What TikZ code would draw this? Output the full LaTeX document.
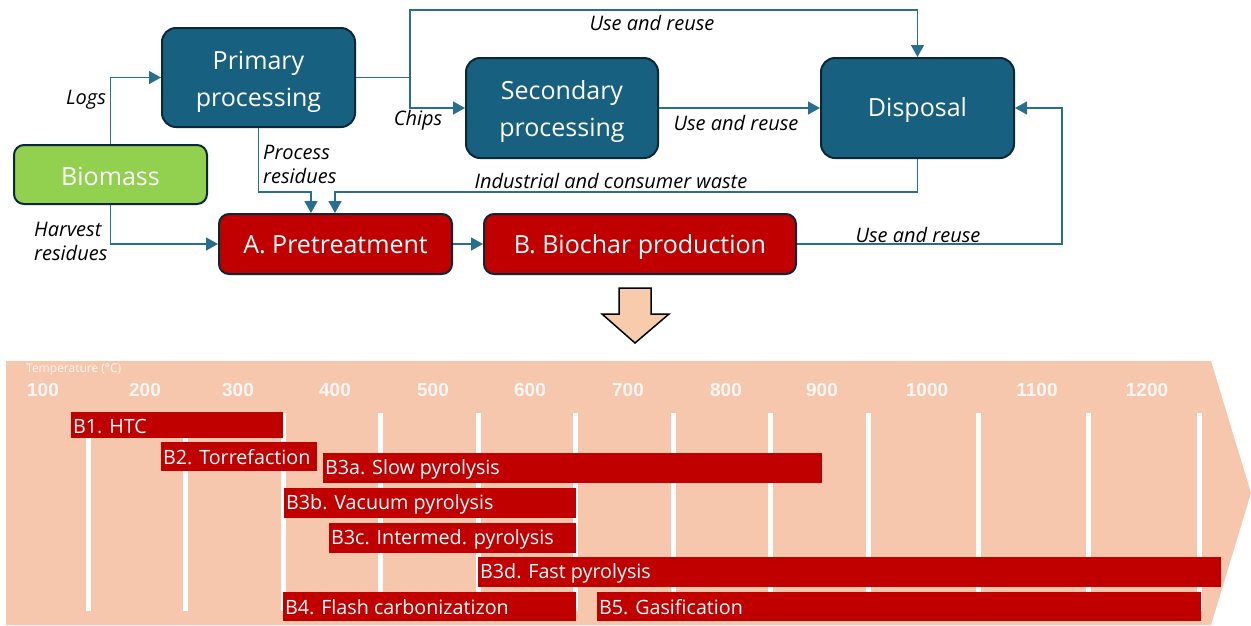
\documentclass[tikz,border=0pt]{standalone}
\usepackage{fontspec}
\setmainfont{Open Sans}
\newfontfamily\numfont{Liberation Sans}
\usetikzlibrary{arrows.meta}
\definecolor{procblue}{RGB}{24,96,128}
\definecolor{edgedark}{RGB}{12,40,56}
\definecolor{biogreen}{RGB}{146,208,80}
\definecolor{stepred}{RGB}{192,0,0}
\definecolor{flowline}{RGB}{40,110,145}
\definecolor{panel}{RGB}{246,199,173}
\definecolor{downfill}{RGB}{248,203,173}
\begin{document}
\begin{tikzpicture}[x=1pt,y=-1pt,
  proc/.style={draw=edgedark, line width=2pt, fill=procblue, rounded corners=14pt,
    text=white, font=\fontsize{25}{37}\selectfont, align=center, inner sep=0pt},
  stage/.style={draw=edgedark, line width=2pt, fill=stepred, rounded corners=10pt,
    text=white, font=\fontsize{25}{30}\selectfont, inner sep=0pt, text height=24pt, text depth=6pt},
  flow/.style={draw=flowline, line width=1.5pt, -{Triangle[length=12pt,width=13pt]}},
  link/.style={draw=flowline, line width=1.5pt},
  lab/.style={font=\fontsize{20}{24}\selectfont\itshape, text=black, inner sep=0pt, align=left},
  bar/.style={fill=stepred},
  bartext/.style={text=white, font=\fontsize{19.7}{22}\selectfont, inner sep=2pt, anchor=west},
  tick/.style={draw=white, line width=5pt},
  temp/.style={text=white, text opacity=0.85, font=\numfont\bfseries\fontsize{19}{22}\selectfont, inner sep=0pt}
]
\useasboundingbox (0,0) rectangle (1251,625);

% ---------- process nodes ----------
\node[proc, text height=63pt, minimum width=193pt, minimum height=99pt] (prim) at (258.5,77.5) {Primary\\processing};
\node[proc, text height=63pt, minimum width=192pt, minimum height=100pt] (sec) at (562,108) {Secondary\\processing};
\node[proc, text height=22pt, text depth=6pt, minimum width=193pt, minimum height=100pt] (disp) at (917.5,108) {Disposal};
\node[draw=edgedark, line width=2pt, fill=biogreen, rounded corners=10pt, text=white,
  font=\fontsize{25}{30}\selectfont, inner sep=0pt, text height=27pt, text depth=6pt,
  minimum width=193pt, minimum height=59pt] (bio) at (110.5,174.5) {Biomass};
\node[stage, minimum width=233pt, minimum height=60pt] (pre) at (335.5,244) {A. Pretreatment};
\node[stage, minimum width=312pt, minimum height=60pt] (bc) at (640,244) {B. Biochar production};

% ---------- junctions ----------
\coordinate (split) at (410,77.5);
\coordinate (splittop) at (410,10);
\coordinate (resid) at (311,192);
\coordinate (waste) at (335,192);
\coordinate (back) at (1062,244);

% ---------- connectors ----------
\draw[flow] (bio.north) |- (prim.west);
\draw[flow] (bio.south) |- (pre.west);
\draw[link] (prim.east) -- (split);
\draw[flow] (split) -- (splittop) -| (disp.north);
\draw[flow] (split) |- (sec.west);
\draw[flow] (sec.east) -- (disp.west);
\draw[flow] (prim.south) |- (resid) -- (resid |- pre.north);
\draw[flow] (disp.south) |- (waste) -- (waste |- pre.north);
\draw[flow] (pre.east) -- (bc.west);
\draw[flow] (bc.east) -- (back) |- (disp.east);

% ---------- connector labels ----------
\node[lab] (llogs) at (86,100) {Logs};
\node[lab, anchor=west] (lharv) at (34,241) {Harvest\\residues};
\node[lab, anchor=west] (lproc) at (263,164) {Process\\residues};
\node[lab] (lchips) at (418,120) {Chips};
\node[lab] (lreuse1) at (652,23) {Use and reuse};
\node[lab] (lreuse2) at (736,123) {Use and reuse};
\node[lab] (lwaste) at (611,181) {Industrial and consumer waste};
\node[lab] (lreuse3) at (918,235) {Use and reuse};

% ---------- block arrow down ----------
\draw[line width=1.5pt, draw=black, fill=downfill, line join=miter]
  (619,288) -- (651,288) -- (651,314) -- (669,314) -- (635,343) -- (602,314) -- (619,314) -- cycle;

% ---------- temperature panel ----------
\fill[panel] (6,361) -- (1211,361) -- (1251,493) -- (1211,625) -- (6,625) -- cycle;
\node[text=white, text opacity=0.85, font=\fontsize{12}{14}\selectfont, inner sep=0pt, anchor=west] (ttl) at (26,370) {Temperature (°C)};
\foreach \t/\x in {100/43,200/145,300/238,400/335,500/433,600/530,700/628,800/726,900/822,1000/927,1100/1037,1200/1147}
  \node[temp] (t\t) at (\x,390) {\t};
\foreach \x in {88,185.5,283,380,478,575,673,770.5,868,978,1088,1199}
  \draw[tick] (\x,413) -- (\x,611);

% ---------- process bars ----------
\fill[bar] (71,412) rectangle (283,438);
\node[bartext] (b1) at (71,426) {B1. HTC};
\fill[bar] (161,442) rectangle (317,471);
\node[bartext] (b2) at (161,457.5) {B2. Torrefaction};
\fill[bar] (323,453) rectangle (822,483);
\node[bartext] (b3a) at (323,469) {B3a. Slow pyrolysis};
\fill[bar] (284,488) rectangle (576,518);
\node[bartext] (b3b) at (284,504) {B3b. Vacuum pyrolysis};
\fill[bar] (329,523) rectangle (576,553);
\node[bartext] (b3c) at (329,539) {B3c. Intermed. pyrolysis};
\fill[bar] (478,557) rectangle (1221,587);
\node[bartext] (b3d) at (478,573) {B3d. Fast pyrolysis};
\fill[bar] (283,592) rectangle (576,621);
\node[bartext] (b4) at (283,607.5) {B4. Flash carbonizatizon};
\fill[bar] (597,592) rectangle (1201,621);
\node[bartext] (b5) at (597,607.5) {B5. Gasification};
\end{tikzpicture}
\end{document}
